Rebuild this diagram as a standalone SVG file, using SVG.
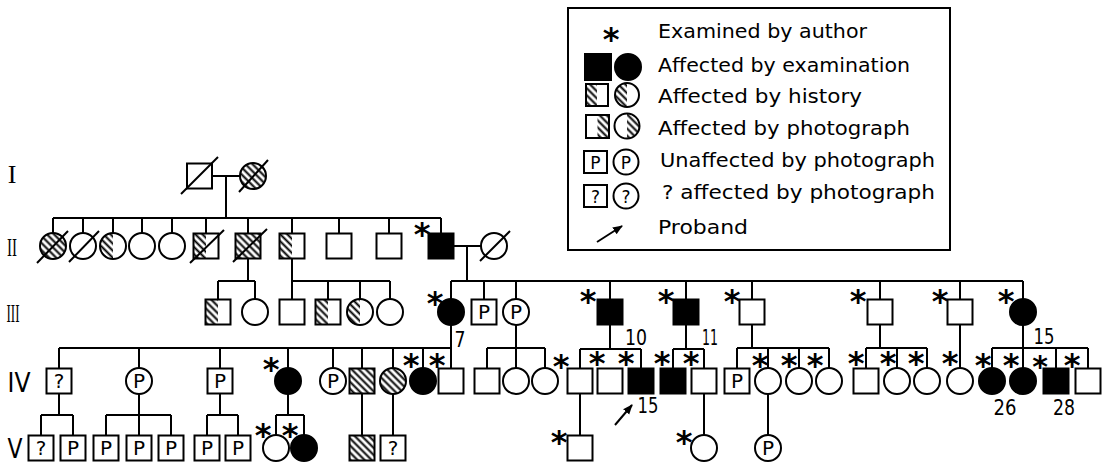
<svg xmlns="http://www.w3.org/2000/svg" width="1108" height="462" viewBox="0 0 1108 462">
<defs>
<pattern id="hatch" patternUnits="userSpaceOnUse" width="5" height="5" patternTransform="rotate(-45)">
<line x1="2.5" y1="0" x2="2.5" y2="5" stroke="#000" stroke-width="2"/>
</pattern>
<marker id="arr" viewBox="0 0 10 10" refX="9" refY="5" markerWidth="5" markerHeight="5" orient="auto">
<path d="M0,1 L10,5 L0,9 z" fill="#000"/>
</marker>
<style>
.o{fill:none;stroke:#000;stroke-width:2}
.f{fill:#000;stroke:#000;stroke-width:2}
.hf{fill:url(#hatch);stroke:#000;stroke-width:2}
.h{fill:url(#hatch);stroke:none}
.ln{fill:none;stroke:#000;stroke-width:2}
.t{font-family:"DejaVu Sans","Liberation Sans",sans-serif;fill:#000}
.lg{font-size:19.5px}
.p{font-size:20px;text-anchor:middle}
.ps{font-size:17px;text-anchor:middle}
.n{font-size:22px;text-anchor:middle}
.a{font-family:"DejaVu Sans","Liberation Sans",sans-serif;font-size:32px;font-weight:bold;text-anchor:middle;fill:#000}
.rs{font-family:"Liberation Serif",serif;font-size:26px;text-anchor:middle;fill:#000}
.rn{font-family:"DejaVu Sans",sans-serif;font-size:26px;text-anchor:middle;fill:#000}
</style>
</defs>
<rect width="1108" height="462" fill="#fff"/>

<!-- Legend -->
<g id="legend">
<rect class="o" x="568" y="8" width="382" height="242"/>
<text class="a" x="611" y="50">*</text>
<text class="t lg" x="658" y="38" textLength="209" lengthAdjust="spacingAndGlyphs">Examined by author</text>
<rect class="f" x="585" y="54" width="26" height="26"/>
<circle class="f" cx="628" cy="67" r="13"/>
<text class="t lg" x="658" y="72" textLength="252" lengthAdjust="spacingAndGlyphs">Affected by examination</text>
<rect class="h" x="586" y="84" width="11" height="22"/>
<rect class="o" x="586" y="84" width="22" height="22"/>
<path class="h" d="M627,83 A12,12 0 0,0 627,107 Z"/>
<circle class="o" cx="627" cy="95" r="12"/>
<text class="t lg" x="658" y="103" textLength="204" lengthAdjust="spacingAndGlyphs">Affected by history</text>
<rect class="h" x="597.5" y="115" width="11.5" height="23"/>
<rect class="o" x="586" y="115" width="23" height="23"/>
<path class="h" d="M627,113.5 A12.5,12.5 0 0,1 627,138.5 Z"/>
<circle class="o" cx="627" cy="126" r="12.5"/>
<text class="t lg" x="658" y="135" textLength="252" lengthAdjust="spacingAndGlyphs">Affected by photograph</text>
<rect class="o" x="584" y="151" width="23" height="22"/>
<text class="t ps" x="595.5" y="168.5">P</text>
<circle class="o" cx="626" cy="162" r="12.5"/>
<text class="t ps" x="626" y="168.5">P</text>
<text class="t lg" x="660" y="167" textLength="275" lengthAdjust="spacingAndGlyphs">Unaffected by photograph</text>
<rect class="o" x="584" y="185" width="23" height="22"/>
<text class="t ps" x="595.5" y="202.5">?</text>
<circle class="o" cx="626" cy="196" r="12.5"/>
<text class="t ps" x="626" y="202.5">?</text>
<text class="t lg" x="662" y="199" textLength="273" lengthAdjust="spacingAndGlyphs">? affected by photograph</text>
<line class="ln" x1="597" y1="242" x2="622" y2="226" marker-end="url(#arr)"/>
<text class="t lg" x="658" y="234" textLength="90" lengthAdjust="spacingAndGlyphs">Proband</text>
</g>

<!-- Generation labels -->
<g id="gen-labels">
<text class="rs" x="12" y="183">I</text>
<text class="rs" x="12" y="256" textLength="10" lengthAdjust="spacingAndGlyphs">II</text>
<text class="rs" x="13" y="322" textLength="13" lengthAdjust="spacingAndGlyphs">III</text>
<text class="rn" x="19" y="392" textLength="23" lengthAdjust="spacingAndGlyphs">IV</text>
<text class="rn" x="15" y="458" textLength="15" lengthAdjust="spacingAndGlyphs">V</text>
</g>

<!-- Connectors -->
<g id="connectors" class="ln">
<path d="M212,176 H240 M226,176 V218 M53,218 H441"/>
<path d="M53,218 V233 M83,218 V233 M113,218 V233 M142,218 V233 M172,218 V233 M206,218 V233.5 M248,218 V233.5 M292,218 V233.5 M339,218 V233.5 M389,218 V233.5 M441,218 V233.5"/>
<path d="M453.5,246 H481 M467,246 V281 M451,281 H1023"/>
<path d="M451,281 V299 M484,281 V299.5 M516,281 V299 M610,281 V299.5 M686,281 V299.5 M752,281 V299.5 M880,281 V299.5 M960,281 V299.5 M1023,281 V299"/>
<path d="M248,258.5 V281 M218,281 H255 M218,281 V299.5 M255,281 V299"/>
<path d="M292,258.5 V299.5 M292,281 H390 M328,281 V299.5 M360,281 V299 M390,281 V299"/>
<path d="M451,325 V348 M59,348 H451 M59,348 V368.5 M139,348 V368 M220,348 V368.5 M288,348 V368 M333,348 V368 M362,348 V368.5 M393,348 V368 M423,348 V368 M451,348 V368.5"/>
<path d="M516,325 V348 M487,348 H545 M487,348 V368.5 M516,348 V368 M545,348 V368"/>
<path d="M610,324.5 V349 M580,349 H641 M580,349 V368.5 M641,349 V368.5"/>
<path d="M686,324.5 V349 M673,349 H704 M673,349 V368.5 M704,349 V368.5"/>
<path d="M752,324.5 V348 M737,348 H829 M737,348 V368.5 M768,348 V368 M799,348 V368 M829,348 V368"/>
<path d="M880,324.5 V348 M866,348 H927 M866,348 V368.5 M897,348 V368 M927,348 V368"/>
<path d="M960,324.5 V368"/>
<path d="M1023,325 V348 M992,348 H1088 M992,348 V368 M1023,348 V368 M1056,348 V368.5 M1088,348 V368.5"/>
<path d="M59,393.5 V415 M41,415 H73 M41,415 V435.5 M73,415 V435.5"/>
<path d="M139,394 V415 M106,415 H171 M106,415 V435.5 M139,415 V435.5 M171,415 V435.5"/>
<path d="M220,393.5 V415 M207,415 H238 M207,415 V435.5 M238,415 V435.5"/>
<path d="M288,394 V415 M276,415 H304 M276,415 V435 M304,415 V435"/>
<path d="M362,393.5 V435.5 M393,394 V435.5 M580,393.5 V435.5 M704,393.5 V435 M768,394 V435"/>
</g>

<!-- Generation I -->
<g id="I-1"><rect class="o" x="187" y="163.5" width="25" height="25"/><line class="ln" x1="181" y1="194" x2="218" y2="157"/></g>
<g id="I-2"><circle class="hf" cx="253" cy="176" r="13"/><line class="ln" x1="239" y1="192" x2="268" y2="160"/></g>

<!-- Generation II -->
<g id="II-1"><circle class="hf" cx="53" cy="246" r="13"/><line class="ln" x1="37" y1="263" x2="68" y2="231"/></g>
<g id="II-2"><circle class="o" cx="83" cy="246" r="13"/><line class="ln" x1="69" y1="262" x2="99" y2="231"/></g>
<g id="II-3"><path class="h" d="M113,233 A13,13 0 0,0 113,259 Z"/><circle class="o" cx="113" cy="246" r="13"/></g>
<g id="II-4"><circle class="o" cx="142" cy="246" r="13"/></g>
<g id="II-5"><circle class="o" cx="172" cy="246" r="13"/></g>
<g id="II-6"><rect class="h" x="193.5" y="233.5" width="12.5" height="25"/><rect class="o" x="193.5" y="233.5" width="25" height="25"/><line class="ln" x1="190" y1="263" x2="224" y2="230"/></g>
<g id="II-7"><rect class="hf" x="235.5" y="233.5" width="25" height="25"/><line class="ln" x1="233" y1="262" x2="267" y2="229"/></g>
<g id="II-8"><rect class="h" x="279.5" y="233.5" width="12.5" height="25"/><rect class="o" x="279.5" y="233.5" width="25" height="25"/></g>
<g id="II-9"><rect class="o" x="326.5" y="233.5" width="25" height="25"/></g>
<g id="II-10"><rect class="o" x="376.5" y="233.5" width="25" height="25"/></g>
<g id="II-11"><rect class="f" x="428.5" y="233.5" width="25" height="25"/><text class="a" x="422" y="245">*</text></g>
<g id="II-12"><circle class="o" cx="494" cy="246" r="13"/><line class="ln" x1="480" y1="261" x2="510" y2="231"/></g>

<!-- Generation III -->
<g id="III-1"><rect class="h" x="205.5" y="299.5" width="12.5" height="25"/><rect class="o" x="205.5" y="299.5" width="25" height="25"/></g>
<g id="III-2"><circle class="o" cx="255" cy="312" r="13"/></g>
<g id="III-3"><rect class="o" x="279.5" y="299.5" width="25" height="25"/></g>
<g id="III-4"><rect class="h" x="315.5" y="299.5" width="12.5" height="25"/><rect class="o" x="315.5" y="299.5" width="25" height="25"/></g>
<g id="III-5"><path class="h" d="M360,299 A13,13 0 0,0 360,325 Z"/><circle class="o" cx="360" cy="312" r="13"/></g>
<g id="III-6"><circle class="o" cx="390" cy="312" r="13"/></g>
<g id="III-7"><circle class="f" cx="451" cy="312" r="13"/><text class="a" x="435" y="314">*</text><text class="t n" x="460" y="347" textLength="11" lengthAdjust="spacingAndGlyphs">7</text></g>
<g id="III-8"><rect class="o" x="471.5" y="299.5" width="25" height="25"/><text class="t p" x="484" y="319">P</text></g>
<g id="III-9"><circle class="o" cx="516" cy="312" r="13"/><text class="t p" x="516" y="319">P</text></g>
<g id="III-10"><rect class="f" x="597.5" y="299.5" width="25" height="25"/><text class="a" x="588" y="312">*</text><text class="t n" x="636" y="345" textLength="22" lengthAdjust="spacingAndGlyphs">10</text></g>
<g id="III-11"><rect class="f" x="673.5" y="299.5" width="25" height="25"/><text class="a" x="666" y="312">*</text><text class="t n" x="710" y="345" textLength="16" lengthAdjust="spacingAndGlyphs">11</text></g>
<g id="III-12"><rect class="o" x="739.5" y="299.5" width="25" height="25"/><text class="a" x="732" y="312">*</text></g>
<g id="III-13"><rect class="o" x="867.5" y="299.5" width="25" height="25"/><text class="a" x="858" y="312">*</text></g>
<g id="III-14"><rect class="o" x="947.5" y="299.5" width="25" height="25"/><text class="a" x="940" y="312">*</text></g>
<g id="III-15"><circle class="f" cx="1023" cy="312" r="13"/><text class="a" x="1006" y="312">*</text><text class="t n" x="1044" y="344" textLength="21" lengthAdjust="spacingAndGlyphs">15</text></g>

<!-- Generation IV -->
<g id="IV-1"><rect class="o" x="46.5" y="368.5" width="25" height="25"/><text class="t p" x="59" y="388">?</text></g>
<g id="IV-2"><circle class="o" cx="139" cy="381" r="13"/><text class="t p" x="139" y="388">P</text></g>
<g id="IV-3"><rect class="o" x="207.5" y="368.5" width="25" height="25"/><text class="t p" x="220" y="388">P</text></g>
<g id="IV-4"><circle class="f" cx="288" cy="381" r="13"/><text class="a" x="271" y="380">*</text></g>
<g id="IV-5"><circle class="o" cx="333" cy="381" r="13"/><text class="t p" x="333" y="388">P</text></g>
<g id="IV-6"><rect class="hf" x="349.5" y="368.5" width="25" height="25"/></g>
<g id="IV-7"><circle class="hf" cx="393" cy="381" r="13"/></g>
<g id="IV-8"><circle class="f" cx="423" cy="381" r="13"/><text class="a" x="411" y="376">*</text></g>
<g id="IV-9"><rect class="o" x="438.5" y="368.5" width="25" height="25"/><text class="a" x="437" y="376">*</text></g>
<g id="IV-10"><rect class="o" x="474.5" y="368.5" width="25" height="25"/></g>
<g id="IV-11"><circle class="o" cx="516" cy="381" r="13"/></g>
<g id="IV-12"><circle class="o" cx="545" cy="381" r="13"/></g>
<g id="IV-13"><rect class="o" x="567.5" y="368.5" width="25" height="25"/><text class="a" x="561" y="377">*</text></g>
<g id="IV-14"><rect class="o" x="597.5" y="368.5" width="25" height="25"/><text class="a" x="597" y="374">*</text></g>
<g id="IV-15"><rect class="f" x="628.5" y="368.5" width="25" height="25"/><text class="a" x="626" y="374">*</text><text class="t n" x="648" y="413" textLength="21" lengthAdjust="spacingAndGlyphs">15</text><line class="ln" x1="615" y1="425" x2="632" y2="405" marker-end="url(#arr)"/></g>
<g id="IV-16"><rect class="f" x="660.5" y="368.5" width="25" height="25"/><text class="a" x="662" y="374">*</text></g>
<g id="IV-17"><rect class="o" x="691.5" y="368.5" width="25" height="25"/><text class="a" x="691" y="374">*</text></g>
<g id="IV-18"><rect class="o" x="724.5" y="368.5" width="25" height="25"/><text class="t p" x="737" y="388">P</text></g>
<g id="IV-19"><circle class="o" cx="768" cy="381" r="13"/><text class="a" x="760" y="376">*</text></g>
<g id="IV-20"><circle class="o" cx="799" cy="381" r="13"/><text class="a" x="789" y="376">*</text></g>
<g id="IV-21"><circle class="o" cx="829" cy="381" r="13"/><text class="a" x="815" y="376">*</text></g>
<g id="IV-22"><rect class="o" x="853.5" y="368.5" width="25" height="25"/><text class="a" x="856" y="374">*</text></g>
<g id="IV-23"><circle class="o" cx="897" cy="381" r="13"/><text class="a" x="888" y="374">*</text></g>
<g id="IV-24"><circle class="o" cx="927" cy="381" r="13"/><text class="a" x="916" y="374">*</text></g>
<g id="IV-25"><circle class="o" cx="960" cy="381" r="13"/><text class="a" x="950" y="374">*</text></g>
<g id="IV-26"><circle class="f" cx="992" cy="381" r="13"/><text class="a" x="983" y="376">*</text><text class="t n" x="1005" y="415" textLength="23" lengthAdjust="spacingAndGlyphs">26</text></g>
<g id="IV-27"><circle class="f" cx="1023" cy="381" r="13"/><text class="a" x="1011" y="376">*</text></g>
<g id="IV-28"><rect class="f" x="1043.5" y="368.5" width="25" height="25"/><text class="a" x="1040" y="377" style="font-size:30px">*</text><text class="t n" x="1064" y="415" textLength="22" lengthAdjust="spacingAndGlyphs">28</text></g>
<g id="IV-29"><rect class="o" x="1075.5" y="368.5" width="25" height="25"/><text class="a" x="1072" y="376">*</text></g>

<!-- Generation V -->
<g id="V-1"><rect class="o" x="28.5" y="435.5" width="25" height="25"/><text class="t p" x="41" y="455">?</text></g>
<g id="V-2"><rect class="o" x="60.5" y="435.5" width="25" height="25"/><text class="t p" x="73" y="455">P</text></g>
<g id="V-3"><rect class="o" x="93.5" y="435.5" width="25" height="25"/><text class="t p" x="106" y="455">P</text></g>
<g id="V-4"><rect class="o" x="126.5" y="435.5" width="25" height="25"/><text class="t p" x="139" y="455">P</text></g>
<g id="V-5"><rect class="o" x="158.5" y="435.5" width="25" height="25"/><text class="t p" x="171" y="455">P</text></g>
<g id="V-6"><rect class="o" x="194.5" y="435.5" width="25" height="25"/><text class="t p" x="207" y="455">P</text></g>
<g id="V-7"><rect class="o" x="225.5" y="435.5" width="25" height="25"/><text class="t p" x="238" y="455">P</text></g>
<g id="V-8"><circle class="o" cx="276" cy="448" r="13"/><text class="a" x="263" y="446">*</text></g>
<g id="V-9"><circle class="f" cx="304" cy="448" r="13"/><text class="a" x="290" y="446">*</text></g>
<g id="V-10"><rect class="hf" x="349.5" y="435.5" width="25" height="25"/></g>
<g id="V-11"><rect class="o" x="380.5" y="435.5" width="25" height="25"/><text class="t p" x="393" y="455">?</text></g>
<g id="V-12"><rect class="o" x="567.5" y="435.5" width="25" height="25"/><text class="a" x="559" y="453">*</text></g>
<g id="V-13"><circle class="o" cx="704" cy="448" r="13"/><text class="a" x="684" y="453">*</text></g>
<g id="V-14"><circle class="o" cx="768" cy="448" r="13"/><text class="t p" x="768" y="455">P</text></g>
</svg>
